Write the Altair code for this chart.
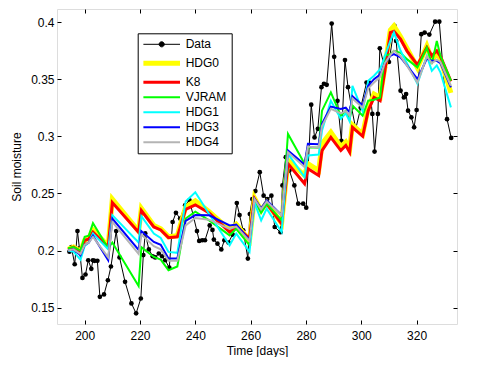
import altair as alt
import pandas as pd

# ---------------- data ----------------
series_names = ["Data", "HDG0", "K8", "VJRAM", "HDG1", "HDG3", "HDG4"]
series_colors = ["#000000", "#ffff00", "#ff0000", "#00ff00", "#00ffff", "#0000ff", "#b4b4b4"]

data_day = [194.5, 195.2, 196.4, 197.4, 198.1, 199.2, 200.3, 201.3, 202.4, 203.0, 203.6, 204.6,
            205.5, 207.0, 208.4, 209.5, 211.4, 212.6, 214.6, 216.9, 218.6, 220.3, 221.2, 221.9,
            223.2, 224.6, 225.5, 226.8, 228.0, 229.1, 230.6, 231.8, 233.0, 234.5, 236.3, 237.9,
            240.6, 241.4, 242.5, 243.5, 245.2, 246.2, 246.7, 248.0, 249.4, 250.5, 252.0, 253.5,
            255.0, 256.0, 257.3, 259.0, 259.7, 260.6, 261.7, 263.3, 264.7, 266.0, 267.5, 268.7,
            270.8, 271.5, 272.7, 274.0, 275.8, 277.2, 279.0, 280.1, 281.9, 283.1, 284.3, 285.6,
            286.5, 287.5, 289.3, 290.2, 291.4, 292.8, 294.1, 295.2, 296.5, 298.0, 299.8, 301.9,
            302.8, 304.0, 304.8, 306.0, 306.7, 308.5, 310.0, 312.0, 312.6, 314.2, 315.4, 316.2,
            316.9, 318.1, 319.1, 320.0, 321.7, 322.9, 324.6, 326.7, 328.2, 331.0, 332.5]
data_val = [0.199, 0.203, 0.188, 0.217, 0.202, 0.176, 0.179, 0.1915, 0.184, 0.1915, 0.191, 0.191,
            0.1595, 0.1616, 0.174, 0.186, 0.217, 0.194, 0.1726, 0.1537, 0.145, 0.158, 0.196, 0.215,
            0.201, 0.195, 0.194, 0.1974, 0.195, 0.1915, 0.185, 0.225, 0.233, 0.228, 0.2395, 0.244,
            0.217, 0.2084, 0.209, 0.209, 0.222, 0.218, 0.2096, 0.206, 0.201, 0.209, 0.207, 0.214,
            0.2416, 0.231, 0.2177, 0.193, 0.232, 0.245, 0.252, 0.2686, 0.248, 0.245, 0.248, 0.2206,
            0.216, 0.257, 0.2817, 0.27, 0.257, 0.241, 0.241, 0.2375, 0.3277, 0.299, 0.3065, 0.343,
            0.346, 0.345, 0.3986, 0.3695, 0.331, 0.296, 0.3667, 0.343, 0.325, 0.3065, 0.325, 0.347,
            0.347, 0.3196, 0.2866, 0.3196, 0.377, 0.36, 0.365, 0.3966, 0.3835, 0.3399, 0.334, 0.337,
            0.3224, 0.3166, 0.3078, 0.323, 0.3894, 0.3908, 0.389, 0.4003, 0.4003, 0.315, 0.2986]

model_day = [194, 196, 198.5, 200, 201.5, 203, 208.5, 210, 219.5, 220.5, 225, 227.5, 230.3, 233.5,
             236.5, 240, 245, 252.4, 254.8, 259.6, 261.4, 263.8, 265.8, 271.2, 273.5, 279.5, 280.7,
             284.6, 285.8, 289, 292.6, 294.4, 295.8, 296.8, 300.5, 302.5, 304.6, 306.8, 308.5, 310.5,
             311.8, 314.2, 316.5, 320.3, 323.7, 325.5, 327.3, 328.6, 332.4]
hdg0 = [0.201, 0.203, 0.199, 0.209, 0.211, 0.218, 0.204, 0.245, 0.217, 0.237, 0.222, 0.219, 0.212,
        0.213, 0.238, 0.2435, 0.234, 0.218, 0.223, 0.209, 0.246, 0.235, 0.242, 0.224, 0.279, 0.2657,
        0.276, 0.270, 0.2934, 0.3035, 0.291, 0.295, 0.289, 0.310, 0.302, 0.325, 0.337, 0.334, 0.360,
        0.393, 0.3966, 0.387, 0.377, 0.360, 0.379, 0.367, 0.372, 0.368, 0.338]
k8 = [0.201, 0.203, 0.199, 0.209, 0.210, 0.216, 0.203, 0.242, 0.216, 0.235, 0.2206, 0.218, 0.2113,
      0.212, 0.236, 0.240, 0.2328, 0.2162, 0.221, 0.2105, 0.245, 0.2352, 0.241, 0.2235, 0.276, 0.2585,
      0.2716, 0.2657, 0.2875, 0.299, 0.2875, 0.2919, 0.286, 0.3078, 0.300, 0.3224, 0.334, 0.3311,
      0.357, 0.3908, 0.392, 0.385, 0.3748, 0.3625, 0.3777, 0.3704, 0.3748, 0.370, 0.348]
vjram = [0.202, 0.203, 0.200, 0.212, 0.213, 0.224, 0.202, 0.207, 0.169, 0.203, 0.1944, 0.192, 0.1828,
         0.186, 0.228, 0.234, 0.2264, 0.2133, 0.219, 0.2046, 0.244, 0.233, 0.241, 0.2264, 0.302, 0.276,
         0.2904, 0.290, 0.3224, 0.3384, 0.318, 0.3224, 0.3152, 0.327, 0.318, 0.3311, 0.332, 0.334,
         0.3704, 0.3719, 0.3748, 0.373, 0.3675, 0.3602, 0.3777, 0.3632, 0.3835, 0.3704, 0.3486]
hdg1 = [0.200, 0.199, 0.192, 0.204, 0.207, 0.215, 0.201, 0.231, 0.207, 0.230, 0.2148, 0.211, 0.1988,
        0.198, 0.243, 0.251, 0.232, 0.2046, 0.2148, 0.1988, 0.242, 0.2264, 0.2367, 0.2162, 0.2846,
        0.2642, 0.2832, 0.284, 0.305, 0.331, 0.3152, 0.32, 0.313, 0.3442, 0.322, 0.3486, 0.353, 0.3588,
        0.370, 0.3835, 0.3908, 0.3748, 0.364, 0.346, 0.3704, 0.3573, 0.362, 0.356, 0.3253]
hdg3 = [0.200, 0.201, 0.196, 0.205, 0.207, 0.213, 0.1915, 0.228, 0.2005, 0.217, 0.2075, 0.205, 0.193,
        0.193, 0.226, 0.231, 0.2308, 0.222, 0.2227, 0.209, 0.2454, 0.237, 0.2439, 0.231, 0.2875,
        0.2753, 0.2934, 0.293, 0.3108, 0.326, 0.324, 0.325, 0.321, 0.335, 0.327, 0.3442, 0.350, 0.354,
        0.364, 0.3704, 0.372, 0.369, 0.362, 0.350, 0.368, 0.366, 0.366, 0.364, 0.3428]
hdg4 = [0.200, 0.201, 0.197, 0.205, 0.207, 0.212, 0.194, 0.225, 0.197, 0.214, 0.2038, 0.201, 0.191,
        0.191, 0.222, 0.2285, 0.227, 0.219, 0.221, 0.2084, 0.245, 0.236, 0.243, 0.2308, 0.286, 0.273,
        0.291, 0.290, 0.309, 0.324, 0.320, 0.322, 0.318, 0.333, 0.325, 0.342, 0.347, 0.352, 0.364,
        0.371, 0.3748, 0.370, 0.362, 0.347, 0.370, 0.364, 0.367, 0.365, 0.3442]

x_ticks = [200, 220, 240, 260, 280, 300, 320]
y_ticks = [0.15, 0.2, 0.25, 0.3, 0.35, 0.4]

# ---------------- table ----------------
rows = [{"series": "Data", "day": d, "val": v} for d, v in zip(data_day, data_val)]
for name, vals in zip(series_names[1:], [hdg0, k8, vjram, hdg1, hdg3, hdg4]):
    rows += [{"series": name, "day": d, "val": v} for d, v in zip(model_day, vals)]
df = pd.DataFrame(rows)

FONT = "Liberation Sans"
xs = alt.Scale(domain=[190, 334.6], nice=False, zero=False)
ys = alt.Scale(domain=[0.1357, 0.4114], nice=False, zero=False)
cs = alt.Scale(domain=series_names, range=series_colors)

x_axis = alt.Axis(title="Time [days]", values=x_ticks, grid=False, domain=False, offset=-4,
                  tickSize=4, tickColor="black", labelPadding=6, labelFontSize=12, labelFont=FONT,
                  labelColor="black", titleFont=FONT, titleFontSize=12, titleFontWeight="normal",
                  titleColor="black", titlePadding=4)
y_axis = alt.Axis(title="Soil moisture", values=y_ticks, grid=False, domain=False, offset=-4,
                  tickSize=4, tickColor="black", labelPadding=3, labelFontSize=12, labelFont=FONT,
                  labelColor="black", format=".2~f", titleFont=FONT, titleFontSize=12,
                  titleFontWeight="normal", titleColor="black", titlePadding=7)
x_top = alt.Axis(orient="top", values=x_ticks, grid=False, domain=False, offset=-4, tickSize=4,
                 tickColor="black", labels=False, title=None)
y_right = alt.Axis(orient="right", values=y_ticks, grid=False, domain=False, offset=-4, tickSize=4,
                   tickColor="black", labels=False, title=None)

DOT = "M-3,0H3M0.42,0A0.42,0.42,0,1,1,-0.42,0A0.42,0.42,0,1,1,0.42,0Z"
legend = alt.Legend(
    title=None, orient="none", legendX=80.7, legendY=24.3,
    symbolType={"expr": f"datum.value == 'Data' ? '{DOT}' : 'M-3,0H3'"},
    symbolStrokeWidth={"expr": "datum.value == 'HDG0' ? 5 : datum.value == 'K8' ? 3 : datum.value == 'Data' ? 1 : 2"},
    symbolFillColor={"expr": "datum.value == 'Data' ? 'black' : 'transparent'"},
    symbolSize=149, symbolOffset=13, labelOffset=18, rowPadding=3,
    labelFont=FONT, labelFontSize=12, labelColor="black",
    strokeColor="black", fillColor="white", padding=5,
)

base = alt.Chart(df)
widths = {"Data": 1, "HDG0": 5, "K8": 3, "VJRAM": 2, "HDG1": 2, "HDG3": 2, "HDG4": 2}


def layer(name, xa=None, ya=None, first=False):
    enc = dict(
        x=alt.X("day:Q", scale=xs, axis=xa),
        y=alt.Y("val:Q", scale=ys, axis=ya),
        color=alt.Color("series:N", scale=cs, legend=legend if first else None),
    )
    return base.transform_filter(alt.datum.series == name).mark_line(
        strokeWidth=widths[name], clip=True).encode(**enc)


layers = [layer("Data", x_axis, y_axis, first=True)]
layers.append(
    base.transform_filter(alt.datum.series == "Data").mark_circle(size=22, opacity=1, color="black")
    .encode(x=alt.X("day:Q", scale=xs, axis=x_top), y=alt.Y("val:Q", scale=ys, axis=y_right))
)
for nm in series_names[1:]:
    layers.append(layer(nm))

chart = alt.layer(*layers).resolve_axis(x="independent", y="independent").properties(
    width=400, height=315, autosize=alt.AutoSizeParams(type="none"),
    padding={"left": 49, "top": 1, "right": 10, "bottom": 33},
).configure_view(stroke="black", strokeWidth=1).configure(background="white")

chart.save("out.html", embed_options={"renderer": "svg", "actions": False})
